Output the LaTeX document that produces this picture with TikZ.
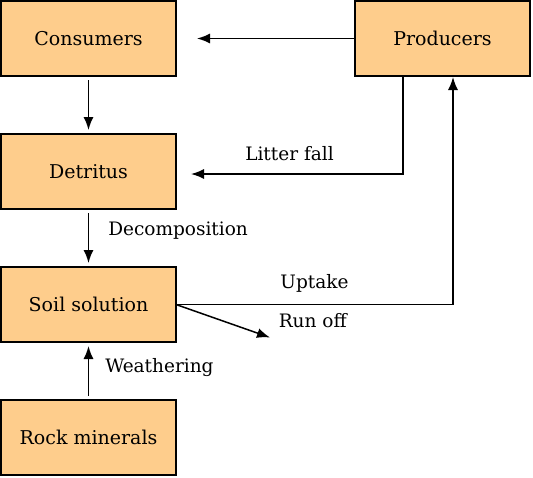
\documentclass[tikz,border=0pt]{standalone}
\usepackage{fontspec}
\setmainfont{DejaVu Serif}
\usetikzlibrary{positioning, arrows.meta, calc}

\definecolor{boxfill}{RGB}{254,205,140}

\begin{document}
\begin{tikzpicture}[
    node distance=58pt and 179pt,
    box/.style={rectangle, draw, line width=1.5pt, fill=boxfill, minimum width=175pt, minimum height=75pt, inner sep=0pt, outer sep=0pt, font=\fontsize{19}{21}\selectfont},
    lbl/.style={font=\fontsize{18.5}{20}\selectfont, inner sep=2pt},
    arr/.style={-{Latex[length=13pt, width=10pt]}, line width=1.5pt}
]
\useasboundingbox (0,0) rectangle (533pt,-477pt);

\node[box] (cons) at (88.5pt,-38.5pt) {Consumers};
\node[box, right=of cons] (prod) {Producers};
\node[box, below=of cons] (detr) {Detritus};
\node[box, below=of detr] (soil) {Soil solution};
\node[box, below=of soil] (rock) {Rock minerals};

\coordinate (litter) at ([xshift=-39.5pt, yshift=-2.5pt]prod.south |- detr.east);
\coordinate (uptake) at ([xshift=10.5pt]prod.south |- soil.east);
\coordinate (runoff) at ([xshift=94pt, yshift=-33pt]soil.east);

\draw[arr, shorten >=21pt] (prod) -- (cons);
\draw[arr, shorten <=4pt, shorten >=4pt] (cons) -- (detr);
\draw[arr, shorten >=15pt] ([xshift=-39.5pt]prod.south) -- (litter)
    -- (litter -| detr.east) node[lbl, midway, above=10pt] {Litter fall};
\draw[arr, shorten <=4pt, shorten >=4pt] (detr) -- (soil)
    node[lbl, pos=0.38, anchor=west, xshift=17pt] {Decomposition};
\draw[arr, shorten >=1pt] (soil.east) -- (uptake)
    node[lbl, midway, above=9pt] {Uptake} -- ([xshift=10.5pt]prod.south);
\draw[arr] (soil.east) -- (runoff)
    node[lbl, anchor=west, xshift=6pt, yshift=17pt] {Run off};
\draw[arr, shorten <=4pt, shorten >=4pt] (rock) -- (soil)
    node[lbl, pos=0.56, anchor=west, xshift=14pt] {Weathering};

\end{tikzpicture}
\end{document}
